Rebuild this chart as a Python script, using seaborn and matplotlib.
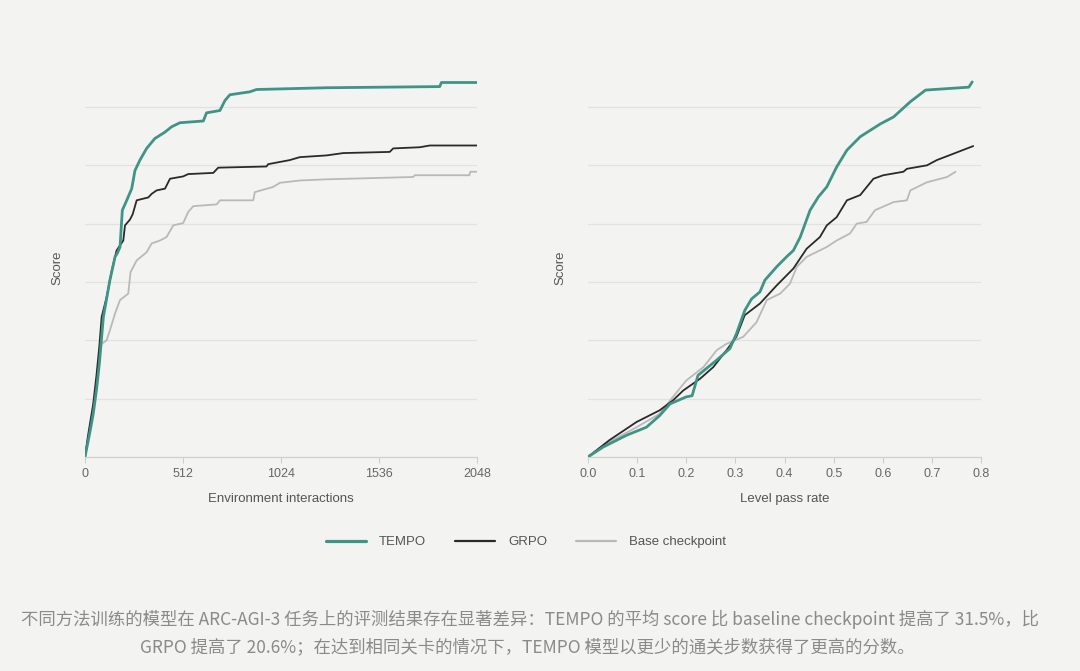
import numpy as np
import pandas as pd
import seaborn as sns
import matplotlib.pyplot as plt
from matplotlib.lines import Line2D

# Datos (unidades de score = una linea de rejilla)
env_tempo_x = [0, 15, 30, 43, 60, 75, 96, 115, 130, 145, 157, 170, 183, 195, 218, 244, 261, 287, 322, 365,
               418, 452, 496, 618, 635, 705, 731, 757, 861, 896, 1261, 1853, 1862, 2048]
env_tempo_y = [0, 0.25, 0.5, 0.74, 1.15, 1.6, 2.4, 2.75, 3.03, 3.25, 3.43, 3.5, 3.6, 4.23, 4.4, 4.6, 4.91, 5.09, 5.29, 5.46,
               5.57, 5.66, 5.73, 5.76, 5.9, 5.94, 6.11, 6.21, 6.26, 6.3, 6.33, 6.35, 6.42, 6.42]

env_grpo_x = [0, 15, 30, 43, 60, 75, 87, 113, 140, 165, 200, 209, 235, 249, 270, 331, 348, 374, 418, 444,
              513, 539, 670, 696, 948, 957, 1070, 1122, 1262, 1349, 1592, 1610, 1749, 1801, 2048]
env_grpo_y = [0, 0.35, 0.65, 0.91, 1.4, 1.9, 2.4, 2.74, 3.2, 3.54, 3.71, 3.97, 4.07, 4.16, 4.4, 4.45, 4.51, 4.57, 4.6, 4.77,
              4.81, 4.85, 4.87, 4.96, 4.98, 5.02, 5.09, 5.14, 5.17, 5.21, 5.23, 5.29, 5.31, 5.34, 5.34]

env_base_x = [0, 15, 30, 43, 60, 75, 87, 113, 130, 157, 183, 226, 238, 270, 322, 348, 391, 426, 461, 513,
              539, 566, 688, 705, 879, 887, 983, 1018, 1122, 1262, 1714, 1723, 2008, 2013, 2048]
env_base_y = [0, 0.3, 0.6, 0.86, 1.3, 1.7, 1.94, 2.0, 2.17, 2.46, 2.69, 2.8, 3.17, 3.37, 3.51, 3.66, 3.71, 3.77, 3.97, 4.01,
              4.2, 4.3, 4.33, 4.4, 4.4, 4.54, 4.63, 4.7, 4.74, 4.76, 4.8, 4.83, 4.83, 4.89, 4.89]

lvl_tempo_x = [0, 0.031, 0.078, 0.119, 0.146, 0.167, 0.2, 0.212, 0.224, 0.262, 0.289, 0.302, 0.319, 0.333, 0.35, 0.36, 0.384,
               0.404, 0.418, 0.432, 0.452, 0.469, 0.486, 0.506, 0.527, 0.554, 0.595, 0.622, 0.656, 0.687, 0.775, 0.782]
lvl_tempo_y = [0, 0.17, 0.37, 0.51, 0.71, 0.91, 1.03, 1.05, 1.4, 1.66, 1.86, 2.11, 2.51, 2.71, 2.83, 3.03, 3.26,
               3.43, 3.54, 3.77, 4.23, 4.46, 4.63, 4.97, 5.26, 5.49, 5.71, 5.83, 6.09, 6.29, 6.34, 6.43]

lvl_grpo_x = [0, 0.044, 0.099, 0.146, 0.173, 0.194, 0.228, 0.255, 0.282, 0.302, 0.319, 0.35, 0.384, 0.418, 0.445,
              0.472, 0.486, 0.506, 0.527, 0.554, 0.581, 0.601, 0.642, 0.649, 0.69, 0.71, 0.744, 0.784]
lvl_grpo_y = [0, 0.29, 0.6, 0.8, 0.97, 1.14, 1.34, 1.54, 1.83, 2.06, 2.43, 2.63, 2.94, 3.23, 3.57,
              3.77, 3.97, 4.11, 4.4, 4.49, 4.77, 4.83, 4.89, 4.94, 5.0, 5.09, 5.2, 5.33]

lvl_base_x = [0, 0.044, 0.099, 0.146, 0.173, 0.2, 0.235, 0.262, 0.282, 0.316, 0.343, 0.364, 0.391, 0.411, 0.425,
              0.445, 0.486, 0.506, 0.533, 0.547, 0.567, 0.584, 0.622, 0.649, 0.656, 0.69, 0.731, 0.748]
lvl_base_y = [0, 0.26, 0.51, 0.74, 1.03, 1.31, 1.54, 1.83, 1.94, 2.06, 2.31, 2.69, 2.8, 2.97, 3.26,
              3.43, 3.6, 3.71, 3.83, 4.0, 4.03, 4.23, 4.37, 4.4, 4.57, 4.71, 4.8, 4.89]

series_names = ["TEMPO", "GRPO", "Base checkpoint"]
env_ticks = [0, 512, 1024, 1536, 2048]
lvl_ticks = [0.0, 0.1, 0.2, 0.3, 0.4, 0.5, 0.6, 0.7, 0.8]

caption_1 = "不同方法训练的模型在 ARC-AGI-3 任务上的评测结果存在显著差异：TEMPO 的平均 score 比 baseline checkpoint 提高了 31.5%，比"
caption_2 = "GRPO 提高了 20.6%；在达到相同关卡的情况下，TEMPO 模型以更少的通关步数获得了更高的分数。"

bg = "#f3f3f1"
colores = {"TEMPO": "#3f9486", "GRPO": "#2a2a2a", "Base checkpoint": "#b9b9b9"}
grosor = {"TEMPO": 2.0, "GRPO": 1.3, "Base checkpoint": 1.3}
orden_z = {"TEMPO": 4, "GRPO": 3, "Base checkpoint": 2}

sns.set_theme(style="white")
plt.rcParams['font.family'] = ['Liberation Sans', 'DejaVu Sans']

fig = plt.figure(figsize=(10.8, 6.71), dpi=100)
fig.patch.set_facecolor(bg)

ax1 = fig.add_axes([0.0787, 0.319, 0.363, 0.565])
ax2 = fig.add_axes([0.5444, 0.319, 0.364, 0.565])

env_data = {
    "TEMPO": (env_tempo_x, env_tempo_y),
    "GRPO": (env_grpo_x, env_grpo_y),
    "Base checkpoint": (env_base_x, env_base_y),
}
lvl_data = {
    "TEMPO": (lvl_tempo_x, lvl_tempo_y),
    "GRPO": (lvl_grpo_x, lvl_grpo_y),
    "Base checkpoint": (lvl_base_x, lvl_base_y),
}

for name in series_names[::-1]:
    x, y = env_data[name]
    sns.lineplot(x=x, y=y, ax=ax1, color=colores[name], linewidth=grosor[name],
                 zorder=orden_z[name], estimator=None)
    x, y = lvl_data[name]
    sns.lineplot(x=x, y=y, ax=ax2, color=colores[name], linewidth=grosor[name],
                 zorder=orden_z[name], estimator=None)

for ax, ticks, xlabel, xmax in [(ax1, env_ticks, "Environment interactions", 2048),
                                (ax2, lvl_ticks, "Level pass rate", 0.8)]:
    ax.set_facecolor(bg)
    ax.set_xlim(0, xmax)
    ax.set_ylim(0, 6.5)
    ax.set_yticks([1, 2, 3, 4, 5, 6])
    ax.set_yticklabels([])
    ax.yaxis.grid(True, color="#e2e2e0", linewidth=0.9)
    ax.set_axisbelow(True)
    ax.set_xticks(ticks)
    if xmax == 0.8:
        ax.set_xticklabels([f"{t:.1f}" for t in ticks])
    else:
        ax.set_xticklabels([str(t) for t in ticks])
    ax.tick_params(axis="x", length=4, width=0.8, color="#cfcfcd", labelsize=9,
                   labelcolor="#666666", pad=4, bottom=True)
    ax.tick_params(axis="y", length=0)
    for s in ["top", "right", "left"]:
        ax.spines[s].set_visible(False)
    ax.spines["bottom"].set_color("#cfcfcd")
    ax.spines["bottom"].set_linewidth(0.9)
    ax.set_xlabel(xlabel, fontsize=9.5, color="#555555")
    ax.xaxis.set_label_coords(0.5, -0.095)
    ax.set_ylabel("Score", fontsize=9.5, color="#555555")
    ax.yaxis.set_label_coords(-0.056, 0.5)

handles = [Line2D([0], [0], color=colores[n], linewidth=grosor[n] + 0.3) for n in series_names]
fig.legend(handles, series_names, loc="center", bbox_to_anchor=(0.487, 0.192), ncol=3,
           frameon=False, fontsize=9.5, labelcolor="#555555", handlelength=3.0,
           columnspacing=2.2, handletextpad=1.0)

fuente_cap = ['Noto Sans CJK SC', 'DejaVu Sans']
fig.text(0.491, 0.0775, caption_1, ha="center", va="center", fontsize=12.5,
         color="#8a8a8a", style="italic", family=fuente_cap)
fig.text(0.488, 0.0358, caption_2, ha="center", va="center", fontsize=12.5,
         color="#8a8a8a", style="italic", family=fuente_cap)

fig.savefig("out.png", dpi=100, facecolor=bg)
